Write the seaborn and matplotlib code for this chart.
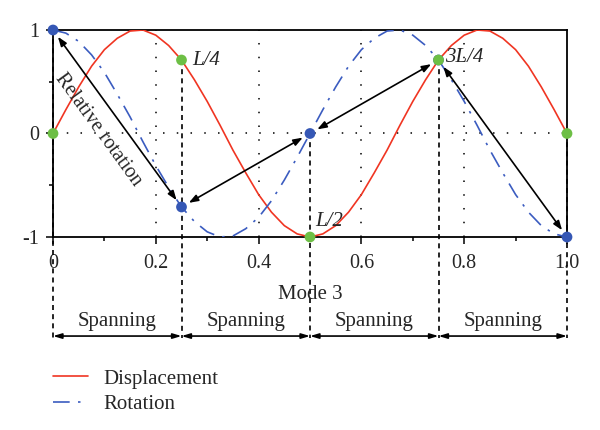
import matplotlib
matplotlib.use("Agg")
import matplotlib.pyplot as plt
import pandas as pd
import seaborn as sns

# ---- data ----
position = [0.0, 0.025, 0.05, 0.075, 0.1, 0.125, 0.15, 0.175, 0.2, 0.225,
            0.25, 0.275, 0.3, 0.325, 0.35, 0.375, 0.4, 0.425, 0.45, 0.475,
            0.5, 0.525, 0.55, 0.575, 0.6, 0.625, 0.65, 0.675, 0.7, 0.725,
            0.75, 0.775, 0.8, 0.825, 0.85, 0.875, 0.9, 0.925, 0.95, 0.975, 1.0]
displacement = [0.0, 0.23, 0.45, 0.65, 0.81, 0.92, 0.99, 1.0, 0.95, 0.85,
                0.71, 0.52, 0.31, 0.08, -0.16, -0.38, -0.59, -0.76, -0.89, -0.97,
                -1.0, -0.97, -0.89, -0.76, -0.59, -0.38, -0.16, 0.08, 0.31, 0.52,
                0.71, 0.85, 0.95, 1.0, 0.99, 0.92, 0.81, 0.65, 0.45, 0.23, 0.0]
rotation = [1.0, 0.97, 0.89, 0.76, 0.59, 0.38, 0.16, -0.08, -0.31, -0.52,
            -0.71, -0.85, -0.95, -1.0, -0.99, -0.92, -0.81, -0.65, -0.45, -0.23,
            0.0, 0.23, 0.45, 0.65, 0.81, 0.92, 0.99, 1.0, 0.95, 0.85,
            0.71, 0.52, 0.31, 0.08, -0.16, -0.38, -0.59, -0.76, -0.89, -0.97, -1.0]

node_pos = [0.0, 0.25, 0.5, 0.75, 1.0]
node_disp = [0.0, 0.71, -1.0, 0.71, 0.0]
node_rot = [1.0, -0.71, 0.0, 0.71, -1.0]
node_labels = ["", "L/4", "L/2", "3L/4", ""]

x_ticks = [0.0, 0.2, 0.4, 0.6, 0.8, 1.0]
x_tick_labels = ["0", "0.2", "0.4", "0.6", "0.8", "1.0"]
y_ticks = [-1, 0, 1]
y_tick_labels = ["-1", "0", "1"]
span_labels = ["Spanning", "Spanning", "Spanning", "Spanning"]
mode_title = "Mode 3"
arrow_text = "Relative rotation"
series_names = ["Displacement", "Rotation"]

RED = "#f03522"
BLUE = "#3b5cc0"
GREEN = "#6dbf45"
NODE_BLUE = "#3557b5"
FS = 15

sns.set_style("ticks")
plt.rcParams["font.family"] = ["Liberation Serif", "DejaVu Serif"]
plt.rcParams["axes.linewidth"] = 1.3

fig = plt.figure(figsize=(6, 4.3), dpi=100)
ax = fig.add_axes([53 / 600, 1 - 237 / 430, 514 / 600, 207 / 430])

df = pd.DataFrame({"x": position, "Displacement": displacement, "Rotation": rotation})

# dotted grid
for t in x_ticks[1:-1]:
    ax.axvline(t, color="black", lw=1.1, ls=(0, (1, 8)), zorder=1)
ax.axhline(0, color="black", lw=1.1, ls=(0, (1, 8)), zorder=1)

sns.lineplot(data=df, x="x", y="Displacement", ax=ax, color=RED, lw=1.2,
             label=series_names[0], zorder=3)
sns.lineplot(data=df, x="x", y="Rotation", ax=ax, color=BLUE, lw=1.2,
             label=series_names[1], zorder=3, dashes=False)
ax.lines[-1].set_linestyle((0, (10, 5, 1.5, 5)))

ax.set_xlim(0, 1)
ax.set_ylim(-1, 1)

ybot = -1.976
yarrow = -1.957
yspan = -1.82
ymode = -1.56

# dashed verticals
for xp, d, r in zip(node_pos, node_disp, node_rot):
    ax.plot([xp, xp], [max(d, r), ybot], color="black", lw=1.2,
            ls=(0, (3, 2.5)), clip_on=False, zorder=2)

# relative rotation arrows
for i in range(len(node_pos) - 1):
    ax.annotate("", xy=(node_pos[i + 1], node_rot[i + 1]),
                xytext=(node_pos[i], node_rot[i]),
                arrowprops=dict(arrowstyle="<|-|>,head_length=0.55,head_width=0.2",
                                color="black", lw=1.2, shrinkA=6, shrinkB=6),
                zorder=4)

# markers
sns.scatterplot(x=node_pos, y=node_rot, ax=ax, color=NODE_BLUE, s=60,
                edgecolor="none", zorder=5, clip_on=False, legend=False)
sns.scatterplot(x=node_pos, y=node_disp, ax=ax, color=GREEN, s=60,
                edgecolor="none", zorder=6, clip_on=False, legend=False)

# node labels
offsets = [(0, 0), (8, 0), (4, 11), (5, 2), (0, 0)]
for xp, d, lab, off in zip(node_pos, node_disp, node_labels, offsets):
    if lab:
        ax.annotate(lab, xy=(xp, d), xytext=off, textcoords="offset points",
                    ha="left", va="center", fontsize=FS, fontstyle="italic",
                    zorder=7)

# relative rotation label
ax.text(0.088, 0.04, arrow_text, rotation=-54, rotation_mode="anchor",
        ha="center", va="center", fontsize=14.5, zorder=7)

# spanning
for i in range(len(span_labels)):
    ax.annotate("", xy=(node_pos[i + 1], yarrow), xytext=(node_pos[i], yarrow),
                arrowprops=dict(arrowstyle="<|-|>,head_length=0.5,head_width=0.15",
                                color="black", lw=1.2, shrinkA=0, shrinkB=0),
                annotation_clip=False)
    ax.text((node_pos[i] + node_pos[i + 1]) / 2, yspan, span_labels[i],
            ha="center", va="center", fontsize=FS, clip_on=False)
ax.text(0.5, ymode, mode_title, ha="center", va="center", fontsize=FS,
        clip_on=False)

# ticks
ax.set_xticks(x_ticks)
ax.set_xticklabels(x_tick_labels)
ax.set_yticks(y_ticks)
ax.set_yticklabels(y_tick_labels)
ax.set_xticks([0.1, 0.3, 0.5, 0.7, 0.9], minor=True)
ax.set_yticks([-0.5, 0.5], minor=True)
ax.tick_params(which="major", direction="out", length=5, width=1.1,
               labelsize=14.5, color="black", pad=5)
ax.tick_params(axis="x", which="major", pad=7)
ax.tick_params(which="minor", direction="out", length=3, width=1.1, color="black")
ax.set_xlabel("")
ax.set_ylabel("")
for s in ax.spines.values():
    s.set_visible(True)
    s.set_color("black")
    s.set_linewidth(1.3)

# legend
handles, labels = ax.get_legend_handles_labels()
ax.get_legend().remove()
fig.legend(handles, labels, loc="upper left",
           bbox_to_anchor=(53 / 600, 1 - 369 / 430), frameon=False,
           fontsize=FS, handlelength=1.7, handletextpad=0.72, labelspacing=0.3,
           borderpad=0, borderaxespad=0)

fig.savefig("out.png", dpi=100)
